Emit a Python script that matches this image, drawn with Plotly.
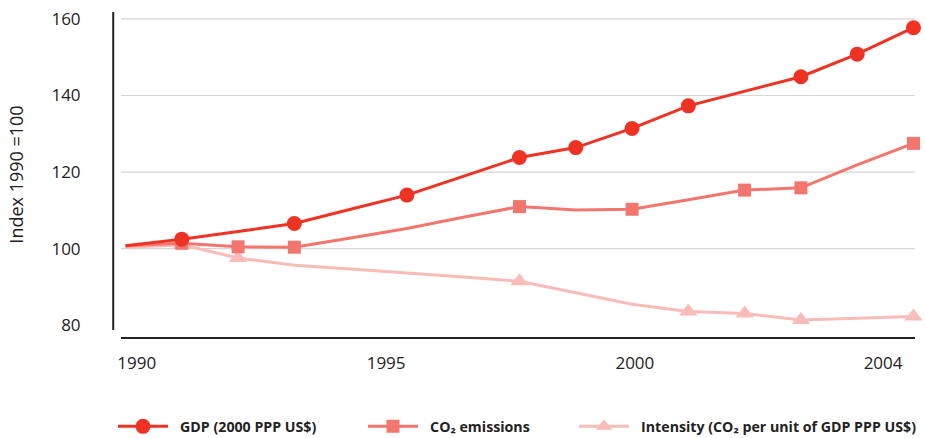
import plotly.graph_objects as go

years = list(range(1990, 2005))
gdp = [100.8, 102.5, 104.5, 106.6, 110.3, 114.0, 118.9, 123.8, 126.4, 131.4, 137.3, 141.1, 144.9, 150.8, 157.7]
co2 = [100.8, 101.4, 100.5, 100.4, 102.8, 105.3, 108.2, 111.0, 110.1, 110.3, 112.8, 115.3, 115.9, 121.9, 127.5]
intensity = [100.4, 101.0, 97.6, 95.7, 94.7, 93.7, 92.6, 91.5, 88.5, 85.5, 83.6, 83.1, 81.4, 81.8, 82.3]

gdp_marked = [1991, 1993, 1995, 1997, 1998, 1999, 2000, 2002, 2003, 2004]
co2_marked = [1991, 1992, 1993, 1997, 1999, 2001, 2002, 2004]
int_marked = [1991, 1992, 1997, 2000, 2001, 2002, 2004]

x_tick_pos = [1990.20, 1994.63, 1999.05, 2003.46]
x_tick_text = ["1990", "1995", "2000", "2004"]
y_ticks = [80, 100, 120, 140, 160]
grid_vals = [100, 120, 140, 160]

C_GDP = "#ee3224"
C_CO2 = "#f3766e"
C_INT = "#f9bcb8"

FONT = "Open Sans"

fig = go.Figure()
series = [
    ("Intensity (CO₂ per unit of GDP PPP US$)", intensity, C_INT, "triangle-up", int_marked, 16, 14, "legend3"),
    ("CO₂ emissions", co2, C_CO2, "square", co2_marked, 13, 13, "legend2"),
    ("GDP (2000 PPP US$)", gdp, C_GDP, "circle", gdp_marked, 15, 15, "legend"),
]
for name, vals, col, sym, marked, sz, lsz, lg in series:
    # line through every year
    fig.add_trace(go.Scatter(
        x=years, y=vals, mode="lines", line=dict(color=col, width=3),
        showlegend=False, hoverinfo="skip", cliponaxis=False,
    ))
    # markers only on the marked years
    mx = [y for y in years if y in marked]
    my = [v for y, v in zip(years, vals) if y in marked]
    fig.add_trace(go.Scatter(
        x=mx, y=my, mode="markers", name=name, showlegend=False, cliponaxis=False,
        marker=dict(symbol=sym, size=sz, color=col, line=dict(width=0)),
    ))
    # legend entry
    fig.add_trace(go.Scatter(
        x=[None], y=[None], mode="lines+markers", name="\u2002" + name, legend=lg,
        line=dict(color=col, width=3),
        marker=dict(symbol=sym, size=lsz, color=col, line=dict(width=0)),
    ))

shapes = []
for g in grid_vals:
    shapes.append(dict(type="line", xref="paper", yref="y", x0=0, x1=1, y0=g, y1=g,
                       line=dict(color="#d6d6d6", width=1.2), layer="below"))
# detached y axis line
shapes.append(dict(type="line", xref="paper", yref="y", x0=-0.0098, x1=-0.0098, y0=78.8, y1=161.8,
                   line=dict(color="#222222", width=2)))

legend_common = dict(orientation="h", xanchor="left", yanchor="middle",
                     yref="container", xref="container", y=0.026,
                     bgcolor="rgba(0,0,0,0)", itemwidth=50,
                     font=dict(family=FONT, size=14.2, color="#222222", weight="bold"))

fig.update_layout(
    width=925, height=438,
    margin=dict(l=121, r=10, t=12, b=101, autoexpand=False),
    paper_bgcolor="white", plot_bgcolor="white",
    font=dict(family=FONT, color="#222222"),
    showlegend=True,
    shapes=shapes,
    legend=dict(legend_common, x=113 / 925),
    legend2=dict(legend_common, x=363 / 925),
    legend3=dict(legend_common, x=574 / 925),
    xaxis=dict(range=[1989.92, 2004.027], tickvals=x_tick_pos, ticktext=x_tick_text,
               showgrid=False, zeroline=False, showline=True, linecolor="#222222", linewidth=2,
               ticks="outside", ticklen=10, tickcolor="rgba(0,0,0,0)", automargin=False,
               tickfont=dict(family=FONT, size=17, color="#222222")),
    yaxis=dict(range=[76.95, 161.8], tickvals=y_ticks, showgrid=False, zeroline=False,
               showline=False, ticks="outside", ticklen=36, tickcolor="rgba(0,0,0,0)",
               automargin=False,
               tickfont=dict(family=FONT, size=17, color="#222222"),
               title=dict(text="Index 1990 =100", font=dict(family=FONT, size=18, color="#222222"),
                          standoff=23)),
)

fig.write_html("out.html", config={"displayModeBar": False},
               post_script="document.body.style.margin='0';document.body.style.padding='0';")
